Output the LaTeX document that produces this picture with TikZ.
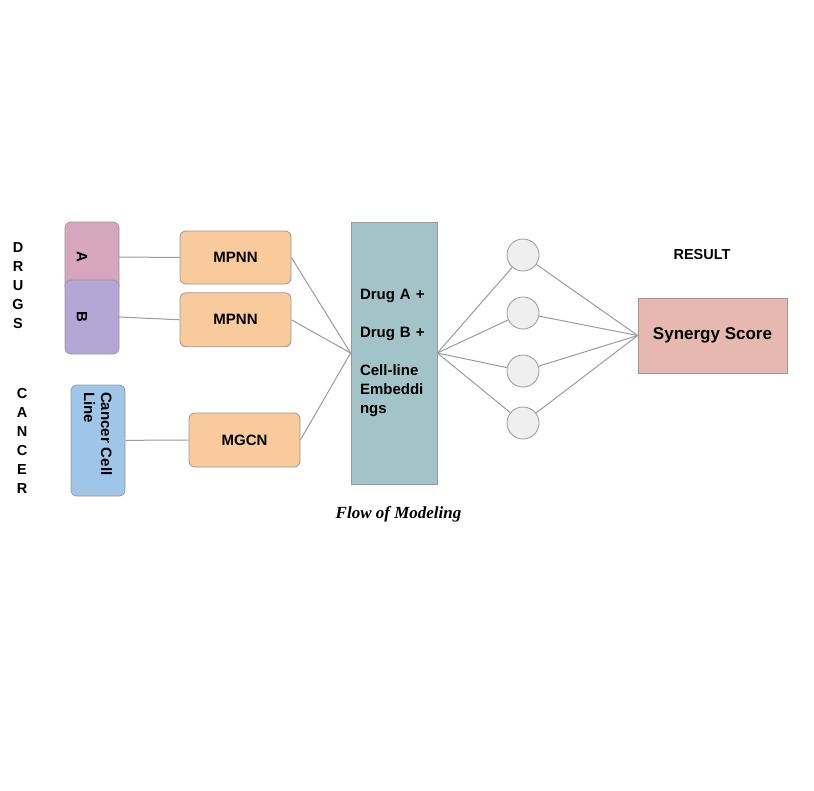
\documentclass[tikz,border=0pt]{standalone}
\usepackage{fontspec}
\setmainfont{Liberation Sans}
\newfontfamily\captionfont{Liberation Serif}
\usetikzlibrary{
  positioning,
}
\definecolor{drugpink}{HTML}{D5A6BD}
\definecolor{drugpurple}{HTML}{B4A7D6}
\definecolor{cellblue}{HTML}{9FC5E8}
\definecolor{encorange}{HTML}{F9CB9C}
\definecolor{embteal}{HTML}{A2C4C9}
\definecolor{neurongray}{HTML}{EFEFEF}
\definecolor{scorered}{HTML}{E6B8AF}
\definecolor{edgegray}{HTML}{999999}
\definecolor{linkgray}{HTML}{9C9C9C}
\tikzset{
  drug/.style={
    rectangle,
    rounded corners=6pt,
    minimum width=54pt,
    draw=edgegray,
    line width=0.8pt,
  },
  vletter/.style={
    rotate=-90,
    inner sep=0pt,
    font=\fontsize{15}{17}\selectfont\bfseries,
  },
  encoder/.style={
    rectangle,
    rounded corners=6pt,
    minimum width=111pt,
    minimum height=53pt,
    text centered,
    draw=edgegray,
    line width=0.8pt,
    fill=encorange,
    font=\fontsize{15}{18}\selectfont\bfseries,
  },
  neuron/.style={
    circle,
    minimum size=32pt,
    inner sep=0pt,
    draw=edgegray,
    line width=0.8pt,
    fill=neurongray,
  },
  title/.style={
    align=center,
    font=\fontsize{14.5}{19}\selectfont\bfseries,
  },
  link/.style={
    draw=linkgray,
    line width=1pt,
  },
}

\begin{document}
\begin{tikzpicture}[
    x=1pt, y=-1pt,
  ]

  \path[fill=white] (0,0) rectangle (814,790);

  % Side titles
  \node (drugs_t) [title] at (18,286) {D\\R\\U\\G\\S};
  \node (cancer_t) [title] at (22,441) {C\\A\\N\\C\\E\\R};
  \node (result_t) [title] at (702,255) {RESULT};

  % Inputs
  \node (drugA) [drug, fill=drugpink, minimum height=70pt] at (92,257) {};
  \node (drugB) [drug, fill=drugpurple, minimum height=74pt] at (92,317) {};
  \node (drugA_t) [vletter] at (82,257) {A};
  \node (drugB_t) [vletter] at (82,317) {B};
  \node (cell) [drug, fill=cellblue, rotate=-90,
    minimum width=111pt, minimum height=54pt,
    text width=97pt, align=left, inner xsep=7pt,
    font=\fontsize{15}{17}\selectfont\bfseries] at (98,440.5) {Cancer Cell\\Line};

  % Encoders
  \node (mpnnA) [encoder] at (235.5,257.5) {MPNN};
  \node (mpnnB) [encoder, minimum height=54pt, below=8pt of mpnnA] {MPNN};
  \node (mgcn) [encoder, minimum height=54pt] at (244.5,440) {MGCN};

  % Embedding and network
  \node (emb) [rectangle, draw=edgegray, line width=0.8pt, fill=embteal,
    minimum width=86pt, minimum height=262pt,
    text width=68pt, inner xsep=9pt, align=left,
    font=\fontsize{15}{19}\selectfont\bfseries] at (394,353)
    {Drug A +\\[19pt]Drug B +\\[19pt]Cell-line\\Embeddi\\ngs};

  \foreach \y [count=\i] in {255,313,371,423} {
    \node (hid\i) [neuron] at (523,\y) {};
  }

  \node (score) [rectangle, draw=edgegray, line width=0.8pt, fill=scorered,
    minimum width=149pt, minimum height=75pt,
    font=\fontsize{17}{20}\selectfont\bfseries] at (712.5,335.5) {Synergy Score};

  % Caption
  \node (caption) [font=\captionfont\fontsize{17}{20}\selectfont\bfseries\itshape]
    at (398.5,514) {Flow of Modeling};

  % Links
  \draw [link] (drugA.east) -- (mpnnA.west);
  \draw [link] (drugB.east) -- (mpnnB.west);
  \draw [link] (cell) -- (mgcn.west);

  \draw [link] (mpnnA.east) -- (emb.west);
  \draw [link] (mpnnB.east) -- (emb.west);
  \draw [link] (mgcn.east) -- (emb.west);

  \foreach \i in {1,...,4} {
    \draw [link] (emb.east) -- (hid\i);
    \draw [link] (hid\i) -- (score.west);
  }

\end{tikzpicture}
\end{document}
